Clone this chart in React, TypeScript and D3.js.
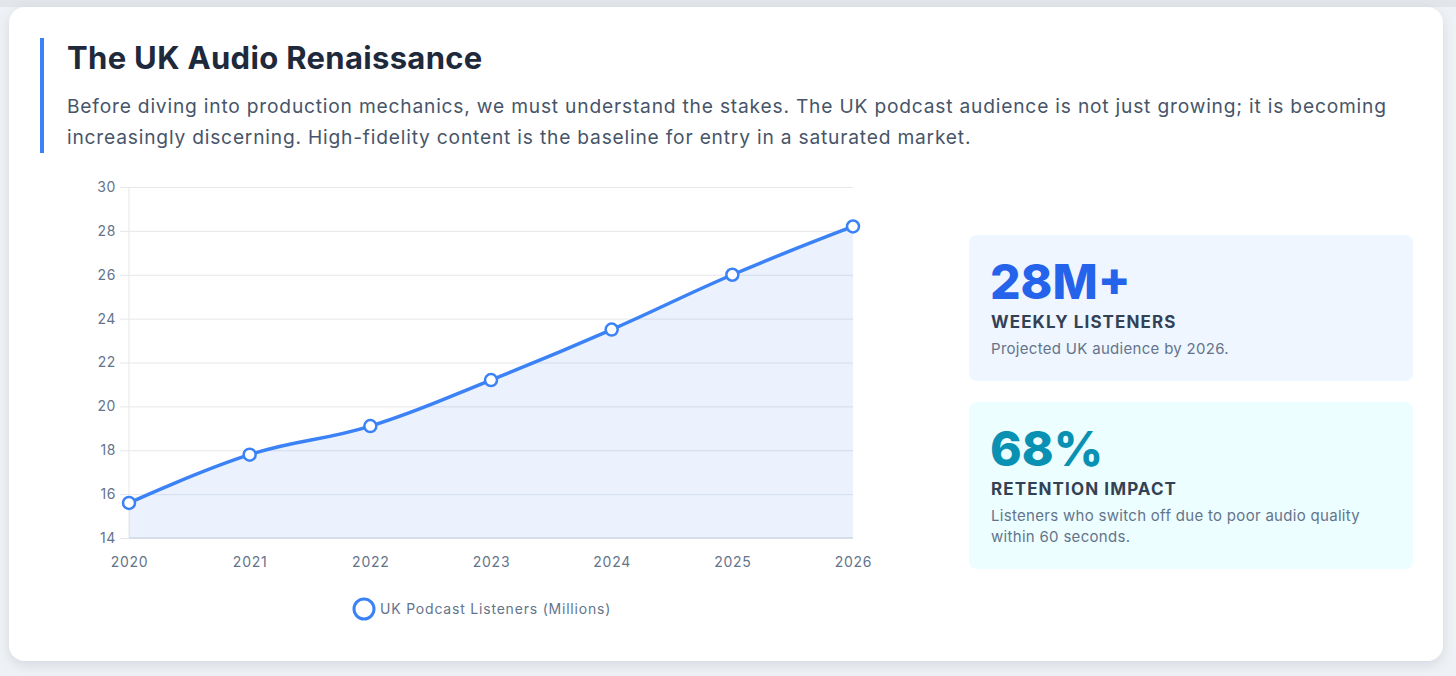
import { useEffect, useRef } from "react"
import * as d3 from "d3"

const years = ["2020", "2021", "2022", "2023", "2024", "2025", "2026"]
const listeners = [15.6, 17.8, 19.1, 21.2, 23.5, 26.0, 28.2]
const yTicks = [14, 16, 18, 20, 22, 24, 26, 28, 30]

const seriesLabel = "UK Podcast Listeners (Millions)"

const introLines = [
  "Before diving into production mechanics, we must understand the stakes. The UK podcast audience is not just growing; it is becoming",
  "increasingly discerning. High-fidelity content is the baseline for entry in a saturated market.",
]

const statValues = ["28M+", "68%"]
const statTitles = ["WEEKLY LISTENERS", "RETENTION IMPACT"]
const statNotes = [
  ["Projected UK audience by 2026."],
  ["Listeners who switch off due to poor audio quality", "within 60 seconds."],
]

const FONT = "Inter, 'Noto Sans', sans-serif"

export default function App() {
  const svgRef = useRef<SVGSVGElement>(null)

  useEffect(() => {
    const svg = d3.select(svgRef.current)
    svg.selectAll("*").remove()

    const W = 1456
    const H = 676

    svg.attr("width", W).attr("height", H).style("font-family", FONT)

    const defs = svg.append("defs")
    const shadow = defs.append("filter").attr("id", "cardShadow")
      .attr("x", "-5%").attr("y", "-5%").attr("width", "110%").attr("height", "115%")
    shadow.append("feDropShadow")
      .attr("dx", 0).attr("dy", 4).attr("stdDeviation", 6)
      .attr("flood-color", "#0f172a").attr("flood-opacity", 0.1)

    // page background
    svg.append("rect").attr("width", W).attr("height", H).attr("fill", "#eef1f5")
    svg.append("rect").attr("width", W).attr("height", 7).attr("fill", "#e2e5e9")

    // main card
    svg.append("rect")
      .attr("x", 9).attr("y", 7).attr("width", 1434).attr("height", 654)
      .attr("rx", 16).attr("fill", "#ffffff")
      .attr("filter", "url(#cardShadow)")

    // header accent bar
    svg.append("rect").attr("x", 40).attr("y", 38).attr("width", 4).attr("height", 115).attr("fill", "#3b82f6")

    svg.append("text")
      .attr("x", 67).attr("y", 69)
      .attr("font-size", 31).attr("font-weight", 700).attr("fill", "#1e293b")
      .attr("letter-spacing", 0.33)
      .text("The UK Audio Renaissance")

    svg.append("g").selectAll("text")
      .data(introLines)
      .join("text")
      .attr("x", 67).attr("y", (d, i) => 113 + i * 31)
      .attr("font-size", 19.2).attr("fill", "#475569")
      .attr("letter-spacing", 0.8)
      .text(d => d)

    // chart
    const left = 129, right = 853, top = 187, bottom = 538

    const x = d3.scalePoint<string>().domain(years).range([left, right])
    const y = d3.scaleLinear().domain([14, 30]).range([bottom, top])

    const g = svg.append("g")

    // horizontal grid
    g.append("g")
      .attr("transform", `translate(${left},0)`)
      .call(d3.axisLeft(y).tickValues(yTicks).tickSize(-(right - left)).tickFormat(() => ""))
      .call(s => s.select(".domain").remove())
      .selectAll("line").attr("stroke", "#e5e7eb")

    // y axis with tick marks extending left
    const yAxis = g.append("g")
      .attr("transform", `translate(${left},0)`)
      .call(d3.axisLeft(y).tickValues(yTicks).tickSize(9).tickPadding(4))
    yAxis.select(".domain").attr("stroke", "#e5e7eb")
      .attr("d", `M0,${top}V${bottom}`)
    yAxis.selectAll("line").attr("stroke", "#e5e7eb")
    yAxis.selectAll("text")
      .attr("font-family", FONT).attr("font-size", 14).attr("fill", "#64748b")
      .attr("letter-spacing", 0.6)

    // x axis
    const xAxis = g.append("g")
      .attr("transform", `translate(0,${bottom})`)
      .call(d3.axisBottom(x).tickSize(0).tickPadding(19))
    xAxis.select(".domain").attr("stroke", "#cbd5e1")
      .attr("d", `M${left},0H${right}`)
    xAxis.selectAll("text")
      .attr("font-family", FONT).attr("font-size", 14).attr("fill", "#64748b")
      .attr("letter-spacing", 0.75)

    const pts = years.map((yr, i) => [x(yr)!, y(listeners[i])] as [number, number])
    const curve = d3.curveCardinal.tension(-0.2)

    const area = d3.area<[number, number]>()
      .x(d => d[0]).y0(bottom).y1(d => d[1]).curve(curve)
    g.append("path").attr("d", area(pts)).attr("fill", "rgba(59,130,246,0.1)")

    const line = d3.line<[number, number]>().x(d => d[0]).y(d => d[1]).curve(curve)
    g.append("path").attr("d", line(pts))
      .attr("fill", "none").attr("stroke", "#3b82f6").attr("stroke-width", 3.5)

    g.selectAll(".pt")
      .data(pts)
      .join("circle")
      .attr("class", "pt")
      .attr("cx", d => d[0]).attr("cy", d => d[1]).attr("r", 6)
      .attr("fill", "#ffffff").attr("stroke", "#3b82f6").attr("stroke-width", 2.5)

    // legend
    svg.append("circle").attr("cx", 364).attr("cy", 609).attr("r", 10)
      .attr("fill", "#ffffff").attr("stroke", "#3b82f6").attr("stroke-width", 3)
    svg.append("text").attr("x", 380).attr("y", 614)
      .attr("font-size", 14).attr("fill", "#64748b")
      .attr("letter-spacing", 0.8)
      .text(seriesLabel)

    // stat cards
    const cards = [
      { y: 235, h: 146, bg: "#eff6ff", color: "#2563eb" },
      { y: 402, h: 167, bg: "#ecfeff", color: "#0891b2" },
    ]
    cards.forEach((c, i) => {
      const cg = svg.append("g")
      cg.append("rect").attr("x", 969).attr("y", c.y).attr("width", 444).attr("height", c.h)
        .attr("rx", 8).attr("fill", c.bg)
      cg.append("text").attr("x", 990).attr("y", c.y + 64)
        .attr("font-size", 48).attr("font-weight", 800).attr("fill", c.color)
        .text(statValues[i])
      cg.append("text").attr("x", 991).attr("y", c.y + 93)
        .attr("font-size", 17).attr("font-weight", 700).attr("fill", "#334155")
        .attr("letter-spacing", 1.1)
        .text(statTitles[i])
      cg.selectAll(".note")
        .data(statNotes[i])
        .join("text")
        .attr("class", "note")
        .attr("x", 991).attr("y", (d, j) => c.y + 119 + j * 21)
        .attr("font-size", 15).attr("fill", "#64748b")
        .attr("letter-spacing", 0.3)
        .text(d => d)
    })
  }, [])

  return (
    <div style={{ position: "fixed", left: 0, top: 0, width: 1456, height: 676 }}>
      <svg ref={svgRef} style={{ display: "block" }}></svg>
    </div>
  )
}
